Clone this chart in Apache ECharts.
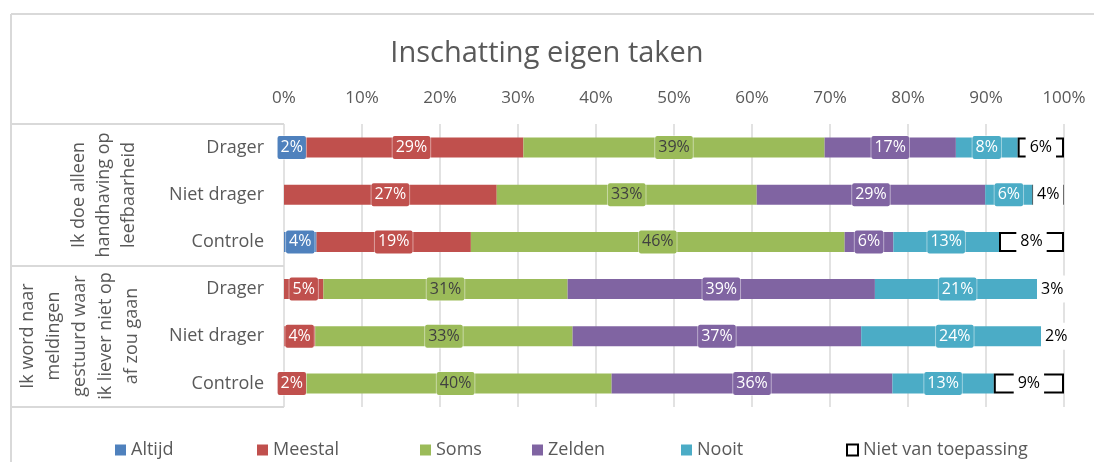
<!DOCTYPE html>
<html>
<head>
<meta charset="utf-8">
<script src="https://cdn.jsdelivr.net/npm/echarts@6/dist/echarts.min.js"></script>
<style>
  html, body { margin: 0; padding: 0; background: #fff; }
  #chart { width: 1094px; height: 462px; }
</style>
</head>
<body>
<div id="chart"></div>
<script>
// rijen (van boven naar beneden)
var categories = ['Drager', 'Niet drager', 'Controle', 'Drager', 'Niet drager', 'Controle'];
var groups = ['Ik doe alleen\nhandhaving op\nleefbaarheid', 'Ik word naar\nmeldingen\ngestuurd waar\nik liever niet op\naf zou gaan'];
var seriesNames = ['Altijd', 'Meestal', 'Soms', 'Zelden', 'Nooit', 'Niet van toepassing'];
var altijd  = [2, 0, 4, 0, 0, 0];
var meestal = [29, 27, 19, 5, 4, 2];
var soms    = [39, 33, 46, 31, 33, 40];
var zelden  = [17, 29, 6, 39, 37, 36];
var nooit   = [8, 6, 13, 21, 24, 13];
var nvt     = [6, 4, 8, 3, 2, 9];
var xTicks  = [0, 10, 20, 30, 40, 50, 60, 70, 80, 90, 100];

var FONT = 'Open Sans';
var GREY = '#595959';
var LINE = '#d9d9d9';

function initChart() {
  var chart = echarts.init(document.getElementById('chart'));
  var all = [altijd, meestal, soms, zelden, nooit, nvt];
  var colors = ['#4f81bd', '#c0504d', '#9bbb59', '#8064a2', '#4bacc6', '#ffffff'];
  var labelColors = ['#fff', '#fff', '#404040', '#fff', '#fff', '#000'];

  // 100% gestapeld: per rij normaliseren
  var totals = categories.map(function (c, i) {
    var s = 0;
    all.forEach(function (arr) { s += arr[i]; });
    return s;
  });

  var series = all.map(function (arr, k) {
    var isNvt = k === 5;
    return {
      name: seriesNames[k],
      type: 'bar',
      stack: 'tot',
      barWidth: 20,
      itemStyle: isNvt ? { color: '#fff', borderColor: '#000', borderWidth: 2 } : { color: colors[k] },
      label: {
        show: true,
        position: 'inside',
        fontFamily: FONT,
        fontSize: 16,
        lineHeight: 17,
        color: labelColors[k],
        backgroundColor: colors[k],
        borderColor: isNvt ? '#fff' : 'rgba(255,255,255,0.45)',
        borderWidth: 1,
        borderRadius: 2,
        padding: isNvt ? [4, 3] : [3, 3],
        formatter: function (p) { return p.data.raw + '%'; }
      },
      data: arr.map(function (v, i) {
        if (!v) return { value: '-', raw: 0 };
        return { value: v / totals[i] * 100, raw: v };
      })
    };
  });

  var legendX = [110, 252, 415, 527, 676, 841];
  var legends = seriesNames.map(function (n, k) {
    return {
      data: [n],
      left: legendX[k],
      top: 436,
      itemWidth: 11,
      itemHeight: 11,
      icon: 'rect',
      textStyle: { fontFamily: FONT, fontSize: 18, color: GREY },
      selectedMode: false
    };
  });

  var option = {
    animation: false,
    title: {
      text: 'Inschatting eigen taken',
      left: 'center',
      top: 34,
      textStyle: { fontFamily: FONT, fontSize: 29, fontWeight: 'normal', color: GREY }
    },
    legend: legends,
    grid: { left: 284, right: 30, top: 124, bottom: 55 },
    xAxis: {
      type: 'value',
      position: 'top',
      min: xTicks[0],
      max: xTicks[xTicks.length - 1],
      interval: 10,
      axisLine: { show: false },
      axisTick: { show: false },
      axisLabel: { formatter: '{value}%', fontFamily: FONT, fontSize: 17, color: GREY, margin: 17 },
      splitLine: { lineStyle: { color: LINE, width: 1.5 } }
    },
    yAxis: {
      type: 'category',
      inverse: true,
      data: categories,
      axisLine: { show: false },
      axisTick: { show: false },
      axisLabel: { fontFamily: FONT, fontSize: 18, color: GREY, margin: 20 }
    },
    series: series,
    graphic: [
      { type: 'line', shape: { x1: 11, y1: 14, x2: 1094, y2: 14 }, style: { stroke: LINE, lineWidth: 2 } },
      { type: 'line', shape: { x1: 11, y1: 14, x2: 11, y2: 462 }, style: { stroke: LINE, lineWidth: 2 } },
      { type: 'line', shape: { x1: 11, y1: 124, x2: 284, y2: 124 }, style: { stroke: LINE, lineWidth: 2 } },
      { type: 'line', shape: { x1: 11, y1: 266, x2: 284, y2: 266 }, style: { stroke: LINE, lineWidth: 2 } },
      { type: 'line', shape: { x1: 11, y1: 407, x2: 284, y2: 407 }, style: { stroke: LINE, lineWidth: 2 } },
      {
        type: 'text', x: 104, y: 195, rotation: Math.PI / 2,
        style: { text: groups[0], fontFamily: FONT, fontSize: 18, lineHeight: 25, fill: GREY, align: 'center', verticalAlign: 'middle' }
      },
      {
        type: 'text', x: 80, y: 336, rotation: Math.PI / 2,
        style: { text: groups[1], fontFamily: FONT, fontSize: 18, lineHeight: 26, fill: GREY, align: 'center', verticalAlign: 'middle' }
      }
    ]
  };
  chart.setOption(option);
}

initChart();
</script>
</body>
</html>
